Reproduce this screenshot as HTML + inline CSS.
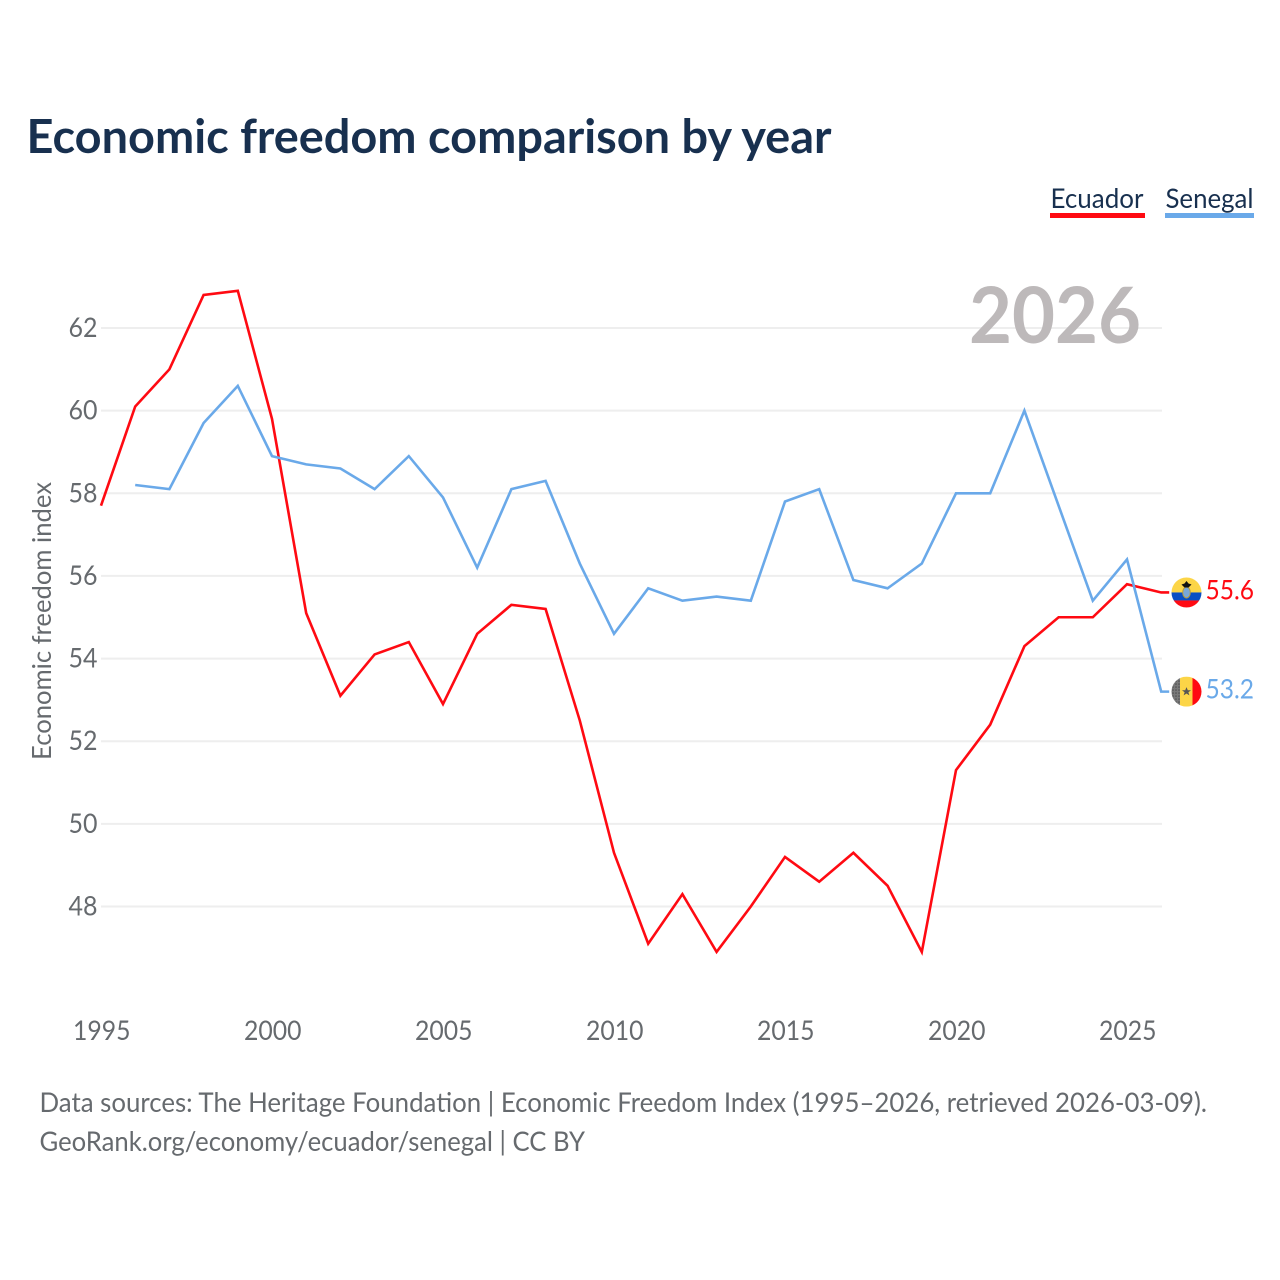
<!DOCTYPE html>
<html lang="en">
<head>
<meta charset="utf-8">
<title>Economic freedom comparison by year</title>
<style>
html,body{margin:0;padding:0;background:#fff;width:1280px;height:1280px;overflow:hidden}
svg{display:block}
text{font-family:"Lato","Carlito","Liberation Sans",sans-serif}
</style>
</head>
<body>
<svg id="chart" xmlns="http://www.w3.org/2000/svg" width="1280" height="1280" viewBox="0 0 1280 1280">
  <rect width="1280" height="1280" fill="#ffffff"/>
  <text x="26.500" y="153" font-size="47" font-weight="700" fill="#18304f" textLength="805" lengthAdjust="spacingAndGlyphs">Economic freedom comparison by year</text>
  <g>
    <text x="1050.500" y="208" font-size="27.500" fill="#18304f" textLength="93" lengthAdjust="spacingAndGlyphs">Ecuador</text>
    <rect x="1050" y="213" width="95" height="5" fill="#ff0a12"/>
  </g>
  <g>
    <text x="1165.500" y="208" font-size="27.500" fill="#18304f" textLength="88" lengthAdjust="spacingAndGlyphs">Senegal</text>
    <rect x="1165" y="213" width="89" height="5" fill="#6aa9e9"/>
  </g>
  <g id="grid"></g>
  <text x="969" y="343" font-size="78" font-weight="700" fill="#bdb9ba" textLength="172" lengthAdjust="spacingAndGlyphs">2026</text>
  <g id="yticks"></g>
  <g id="xticks"></g>
  <text transform="translate(51,760) rotate(-90)" x="0" y="0" font-size="26.500" fill="#666a6e" textLength="278" lengthAdjust="spacingAndGlyphs">Economic freedom index</text>
  <g id="series"></g>
  <defs>
    <clipPath id="clip-ec"><circle cx="0" cy="0" r="15"/></clipPath>
    <clipPath id="clip-sn"><circle cx="0" cy="0" r="15"/></clipPath>
    <pattern id="dots" width="3" height="3" patternUnits="userSpaceOnUse"><rect width="3" height="3" fill="#7a7a7a"/><circle cx="1.500" cy="1.500" r="0.700" fill="#444"/></pattern>
  </defs>
  <g id="flag-ecuador">
    <g clip-path="url(#clip-ec)">
      <rect x="-15" y="-15" width="30" height="15" fill="#fcd547"/>
      <rect x="-15" y="0" width="30" height="8" fill="#0a4fc4"/>
      <rect x="-15" y="8" width="30" height="7" fill="#ff0a12"/>
      <ellipse cx="0" cy="0" rx="3.800" ry="5.500" fill="#7aa8d8" stroke="#b79a3c" stroke-width="1"/>
      <path d="M-5-8 L-2-9 L0-11.500 L2-9 L5-8 L2-5 L-2-5 Z" fill="#111"/>
    </g>
  </g>
  <g id="flag-senegal">
    <g clip-path="url(#clip-sn)">
      <rect x="-15" y="-15" width="8.500" height="30" fill="url(#dots)"/>
      <rect x="-6.500" y="-15" width="12.500" height="30" fill="#fcd547"/>
      <rect x="6" y="-15" width="9" height="30" fill="#ff0a12"/>
      <path d="M0-4.500 L1.300-1.400 L4.500-1.400 L1.900 0.600 L2.900 3.800 L0 1.900 L-2.900 3.800 L-1.900 0.600 L-4.500-1.400 L-1.300-1.400 Z" fill="#555"/>
    </g>
  </g>
  <text id="value-ecuador" x="1205.500" font-size="27.500" fill="#ff0a12" textLength="48.500" lengthAdjust="spacingAndGlyphs"></text>
  <text id="value-senegal" x="1205.500" font-size="27.500" fill="#6aa9e9" textLength="48.500" lengthAdjust="spacingAndGlyphs"></text>
  <text x="39.500" y="1112" font-size="27.500" fill="#666a6e" textLength="1167.500" lengthAdjust="spacingAndGlyphs">Data sources: The Heritage Foundation | Economic Freedom Index (1995–2026, retrieved 2026-03-09).</text>
  <text x="39.500" y="1151" font-size="27.500" fill="#666a6e" textLength="545.500" lengthAdjust="spacingAndGlyphs">GeoRank.org/economy/ecuador/senegal | CC BY</text>
</svg>
<script>
const years = [1995,1996,1997,1998,1999,2000,2001,2002,2003,2004,2005,2006,2007,2008,2009,2010,2011,2012,2013,2014,2015,2016,2017,2018,2019,2020,2021,2022,2023,2024,2025,2026];
const ecuador = [57.7,60.1,61.0,62.8,62.9,59.8,55.1,53.1,54.1,54.4,52.9,54.6,55.3,55.2,52.5,49.3,47.1,48.3,46.9,48.0,49.2,48.6,49.3,48.5,46.9,51.3,52.4,54.3,55.0,55.0,55.8,55.6];
const senegal = [null,58.2,58.1,59.7,60.6,58.9,58.7,58.6,58.1,58.9,57.9,56.2,58.1,58.3,56.3,54.6,55.7,55.4,55.5,55.4,57.8,58.1,55.9,55.7,56.3,58.0,58.0,60.0,57.7,55.4,56.4,53.2];
const yTickValues = [48,50,52,54,56,58,60,62];
const xTickValues = [1995,2000,2005,2010,2015,2020,2025];

const NS = 'http://www.w3.org/2000/svg';
const plotLeft = 101, plotRight = 1161.2, yTop = 328, yBottom = 906.5;
function xScale(year) {
  return plotLeft + (year - 1995) * (plotRight - plotLeft) / (2026 - 1995);
}
function yScale(value) {
  return yTop + (62 - value) * (yBottom - yTop) / (62 - 48);
}
function make(tag, attrs, parent) {
  const el = document.createElementNS(NS, tag);
  for (const k in attrs) el.setAttribute(k, attrs[k]);
  parent.appendChild(el);
  return el;
}
const grid = document.getElementById('grid');
const yticks = document.getElementById('yticks');
const xticks = document.getElementById('xticks');
const seriesGroup = document.getElementById('series');

yTickValues.forEach(function (v) {
  const line = make('line', {x1: 101, x2: 1162, y1: yScale(v), y2: yScale(v), stroke: '#eeeeee', 'stroke-width': 2}, grid);
  
  
  const label = make('text', {x: 68.5, y: yScale(v) + 9, 'font-size': 27.5, fill: '#666a6e', textLength: 29, lengthAdjust: 'spacingAndGlyphs'}, yticks);
  
  
  label.textContent = String(v);
});

xTickValues.forEach(function (t) {
  const label = make('text', {x: xScale(t) - 28, y: 1040, 'font-size': 27.5, fill: '#666a6e', textLength: 57.5, lengthAdjust: 'spacingAndGlyphs'}, xticks);
  
  
  label.textContent = String(t);
});

function drawSeries(values, color) {
  const pts = [];
  values.forEach(function (v, i) {
    if (v !== null) pts.push(xScale(years[i]).toFixed(2) + ',' + yScale(v).toFixed(2));
  });
  const last = values[values.length - 1];
  pts.push((xScale(years[years.length - 1]) + 8).toFixed(2) + ',' + yScale(last).toFixed(2));
  return make('polyline', {points: pts.join(' '), fill: 'none', stroke: color, 'stroke-width': 2.6, 'stroke-linejoin': 'miter'}, seriesGroup);
}
const ecuadorLine = drawSeries(ecuador, '#ff0a12');


const senegalLine = drawSeries(senegal, '#6aa9e9');



const ecLast = ecuador[ecuador.length - 1];
const snLast = senegal[senegal.length - 1];
document.getElementById('flag-ecuador').setAttribute('transform', 'translate(1186.5,' + yScale(ecLast) + ')');
document.getElementById('flag-senegal').setAttribute('transform', 'translate(1186.5,' + yScale(snLast) + ')');
const ecText = document.getElementById('value-ecuador');
ecText.setAttribute('y', yScale(ecLast) + 7);
ecText.textContent = ecLast.toFixed(1);
const snText = document.getElementById('value-senegal');
snText.setAttribute('y', yScale(snLast) + 7);
snText.textContent = snLast.toFixed(1);
</script>
</body>
</html>
